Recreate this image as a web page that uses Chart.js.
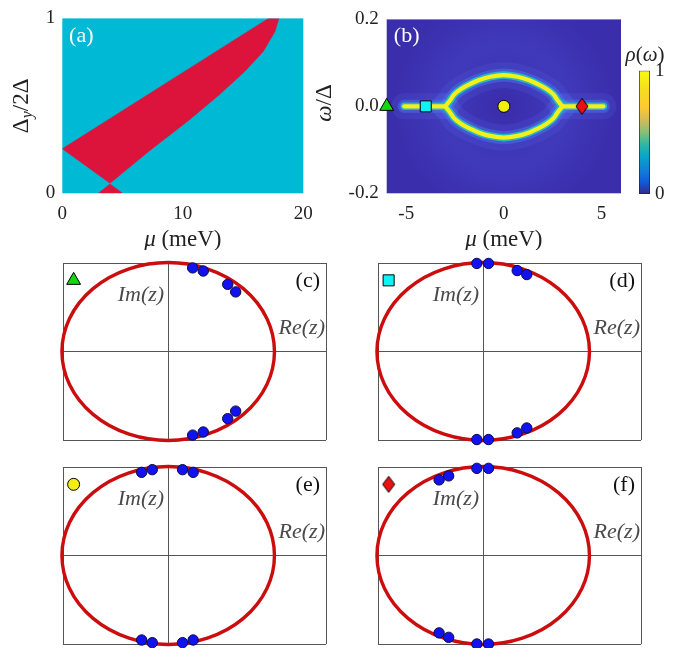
<!DOCTYPE html>
<html><head><meta charset="utf-8">
<script src="https://cdn.jsdelivr.net/npm/chart.js@4.4.1/dist/chart.umd.min.js"></script>
<style>
html,body{margin:0;padding:0;background:#fff;}
#wrap{position:relative;width:689px;height:648px;overflow:hidden;background:#fff;}
canvas{position:absolute;}
</style></head><body>
<div id="wrap">
<canvas id="ca" width="330" height="250" style="left:0px;top:0px;width:330px;height:250px"></canvas>
<canvas id="cb" width="330" height="250" style="left:300px;top:0px;width:330px;height:250px"></canvas>
<canvas id="cbar" width="74" height="250" style="left:615px;top:0px;width:74px;height:250px"></canvas>
<canvas id="cc" width="291" height="205" style="left:49px;top:249px;width:291px;height:205px"></canvas>
<canvas id="cd" width="291" height="205" style="left:364px;top:249px;width:291px;height:205px"></canvas>
<canvas id="ce" width="291" height="205" style="left:49px;top:453px;width:291px;height:205px"></canvas>
<canvas id="cf" width="291" height="205" style="left:364px;top:453px;width:291px;height:205px"></canvas>
</div>
<script>
// ================= DATA =================
// (a) phase diagram
const phaseMuTicks = [0, 10, 20];
const phaseDeltaTicks = [0, 1];
const topoRegionMu    = [0, 17.1, 17.98, 17.65, 16.68, 15.16, 13.08, 10.46, 7.27, 3.96, 0];
const topoRegionDelta = [0.255, 1.0, 1.0, 0.925, 0.811, 0.698, 0.566, 0.415, 0.245, 0.057, 0.255];
const smallRegionMu    = [2.99, 3.96, 5.0];
const smallRegionDelta = [0, 0.053, 0];

// (b) spectral density
const specMuTicks = [-5, 0, 5];
const specOmegaTicks = [-0.2, 0, 0.2];
const arcMu          = [-3.0, -2.75, -2.55, -2.15, -1.7, -1.3, -0.7, 0, 0.7, 1.3, 1.7, 2.15, 2.55, 2.75, 3.0];
const arcOmegaUpper  = [0, 0.014, 0.027, 0.041, 0.052, 0.060, 0.068, 0.072, 0.068, 0.060, 0.052, 0.041, 0.027, 0.014, 0];
const arcOmegaLower  = [0, -0.014, -0.027, -0.041, -0.052, -0.060, -0.068, -0.072, -0.068, -0.060, -0.052, -0.041, -0.027, -0.014, 0];
const bandLeftMu  = [-5.1, -3.0];
const bandRightMu = [3.0, 5.1];
const bandOmega   = [0, 0];
const markerMu    = [-6, -4, 0, 4];
const markerOmega = [0, 0, 0, 0];
const markerShapes = ['triangle', 'rect', 'circle', 'diamond'];
const markerColors = ['#12d812', '#12f2f2', '#f2ee12', '#ee1010'];
const colorbarTicks = [0, 1];

// (c)-(f) zeros in complex plane
const zerosReC = [0.23, 0.33, 0.56, 0.635, 0.23, 0.33, 0.56, 0.635];
const zerosImC = [0.94, 0.905, 0.755, 0.67, -0.94, -0.905, -0.755, -0.67];
const zerosReD = [-0.06, 0.05, 0.32, 0.41, -0.06, 0.05, 0.32, 0.41];
const zerosImD = [0.99, 0.99, 0.91, 0.865, -0.99, -0.99, -0.915, -0.86];
const zerosReE = [-0.25, -0.15, 0.135, 0.235, -0.25, -0.15, 0.135, 0.235];
const zerosImE = [0.935, 0.965, 0.965, 0.935, -0.95, -0.98, -0.98, -0.95];
const zerosReF = [-0.415, -0.325, -0.06, 0.05, -0.415, -0.325, -0.06, 0.05];
const zerosImF = [0.85, 0.895, 0.98, 0.98, -0.87, -0.92, -0.995, -0.995];
const unitCircleRadius = 1;
const panelMarkerRe = -0.89;
const panelMarkerIm = 0.80;

// ================= HELPERS =================
const SERIF = '"Liberation Serif", "DejaVu Serif", serif';
const TICK_FONT = {family: SERIF, size: 19};
const TXT = '#222';
const zip = (xs, ys) => xs.map((x, i) => ({x: x, y: ys[i]}));

function drawRich(ctx, parts, cx, cy, rot) {
  ctx.save();
  ctx.translate(cx, cy);
  ctx.rotate(rot || 0);
  let total = 0;
  parts.forEach(p => { ctx.font = p.font; p.w = ctx.measureText(p.t).width; total += p.w; });
  let x = -total / 2;
  ctx.textBaseline = 'middle';
  ctx.textAlign = 'left';
  parts.forEach(p => { ctx.font = p.font; ctx.fillStyle = p.color || TXT; ctx.fillText(p.t, x, p.dy || 0); x += p.w; });
  ctx.restore();
}

function makeDiamond(color) {
  const c = document.createElement('canvas');
  c.width = 14; c.height = 18;
  const g = c.getContext('2d');
  g.beginPath();
  g.moveTo(7, 1); g.lineTo(13, 9); g.lineTo(7, 17); g.lineTo(1, 9); g.closePath();
  g.fillStyle = color; g.fill();
  g.lineWidth = 1; g.strokeStyle = '#000'; g.stroke();
  return c;
}
const diamondImg = makeDiamond('#ee1010');
const styleOf = s => s === 'diamond' ? diamondImg : s;
const radiusOf = s => ({triangle: 8, rect: 7.8, circle: 6, diamond: 7})[s];

const baseOpts = {
  responsive: false, animation: false, devicePixelRatio: 1,
  plugins: {legend: {display: false}, tooltip: {enabled: false}}
};

// ================= (a) =================
new Chart(document.getElementById('ca'), {
  type: 'scatter',
  data: {datasets: [
    {data: zip(topoRegionMu, topoRegionDelta), showLine: true, fill: 'shape', tension: 0,
     backgroundColor: 'rgb(220,20,60)', borderColor: 'rgb(220,20,60)', borderWidth: 0.5, pointRadius: 0},
    {data: zip(smallRegionMu, smallRegionDelta), showLine: true, fill: 'shape', tension: 0,
     backgroundColor: 'rgb(220,20,60)', borderColor: 'rgb(220,20,60)', borderWidth: 0.5, pointRadius: 0}
  ]},
  options: Object.assign({}, baseOpts, {
    layout: {padding: {left: 0, top: 16.7, right: 26.7, bottom: 0}},
    scales: {
      x: {type: 'linear', min: 0, max: 20,
          afterBuildTicks: a => { a.ticks = phaseMuTicks.map(v => ({value: v})); },
          afterFit: a => { a.height = 56.7; },
          ticks: {font: TICK_FONT, color: TXT, padding: 9, maxRotation: 0},
          grid: {display: false, drawTicks: false}, border: {display: false}},
      y: {type: 'linear', min: 0, max: 1,
          afterBuildTicks: a => { a.ticks = phaseDeltaTicks.map(v => ({value: v})); },
          afterFit: a => { a.width = 62.3; },
          ticks: {font: TICK_FONT, color: TXT, padding: 7},
          grid: {display: false, drawTicks: false}, border: {display: false}}
    }
  }),
  plugins: [{
    id: 'bgA',
    beforeDatasetsDraw(chart) {
      const {ctx, chartArea: a} = chart;
      ctx.save(); ctx.fillStyle = 'rgb(0,185,212)';
      ctx.fillRect(a.left, a.top, a.right - a.left, a.bottom - a.top); ctx.restore();
    },
    afterDraw(chart) {
      const ctx = chart.ctx, a = chart.chartArea;
      drawRich(ctx, [{t: '(a)', font: '22px ' + SERIF, color: '#fff'}], a.left + 19, 36, 0);
      drawRich(ctx, [{t: 'μ', font: 'italic 23px ' + SERIF}, {t: ' (meV)', font: '23px ' + SERIF}], (a.left + a.right) / 2, 240, 0);
      drawRich(ctx, [{t: 'Δ', font: '23px ' + SERIF}, {t: 'y', font: 'italic 16px ' + SERIF, dy: 6},
                     {t: '/2Δ', font: '23px ' + SERIF}], 22, (a.top + a.bottom) / 2, -Math.PI / 2);
    }
  }]
});

// ================= (b) =================
// glow layers, from the top-most (yellow core) to the widest halo
const glowLayers = [
  {w: 4.2, c: '#f6f01a'},
  {w: 7.5, c: 'rgba(40,190,190,0.95)'},
  {w: 13, c: 'rgba(70,125,240,0.45)'},
  {w: 26, c: 'rgba(95,110,240,0.16)'}
];
const specCurves = [
  {p: zip(arcMu, arcOmegaUpper), s: true},
  {p: zip(arcMu, arcOmegaLower), s: true},
  {p: zip(bandLeftMu, bandOmega), s: false},
  {p: zip(bandRightMu, bandOmega), s: false}
];
// Chart.js draws dataset 0 on top, so markers come first, then core, then halos
const bSets = [{
  data: zip(markerMu, markerOmega), showLine: false, clip: false,
  pointStyle: markerShapes.map(styleOf), pointRadius: markerShapes.map(radiusOf),
  pointBackgroundColor: markerColors, pointBorderColor: '#000', pointBorderWidth: 1
}];
glowLayers.forEach(l => {
  specCurves.forEach(cv => {
    bSets.push({data: cv.p, showLine: true, fill: false, borderColor: l.c, borderWidth: l.w,
      pointRadius: 0, borderCapStyle: 'round', borderJoinStyle: 'round',
      cubicInterpolationMode: cv.s ? 'monotone' : 'default', tension: 0});
  });
});
new Chart(document.getElementById('cb'), {
  type: 'scatter',
  data: {datasets: bSets},
  options: Object.assign({}, baseOpts, {
    layout: {padding: {left: 0, top: 16.7, right: 4, bottom: 0}},
    scales: {
      x: {type: 'linear', min: -6, max: 6,
          afterBuildTicks: a => { a.ticks = specMuTicks.map(v => ({value: v})); },
          afterFit: a => { a.height = 56.7; },
          ticks: {font: TICK_FONT, color: TXT, padding: 9, maxRotation: 0},
          grid: {display: false, drawTicks: false}, border: {display: false}},
      y: {type: 'linear', min: -0.2, max: 0.2,
          afterBuildTicks: a => { a.ticks = specOmegaTicks.map(v => ({value: v})); },
          afterFit: a => { a.width = 86.7; },
          ticks: {font: TICK_FONT, color: TXT, padding: 8, callback: v => v.toFixed(1)},
          grid: {display: false, drawTicks: false}, border: {display: false}}
    }
  }),
  plugins: [{
    id: 'bgB',
    beforeDatasetsDraw(chart) {
      const {ctx, chartArea: a} = chart;
      ctx.save();
      ctx.fillStyle = 'rgb(58,46,172)';
      ctx.fillRect(a.left, a.top, a.right - a.left, a.bottom - a.top);
      ctx.beginPath(); ctx.rect(a.left, a.top, a.right - a.left, a.bottom - a.top); ctx.clip();
      const cx = (a.left + a.right) / 2, cy = (a.top + a.bottom) / 2;
      const g = ctx.createRadialGradient(cx, cy, 10, cx, cy, 110);
      g.addColorStop(0, 'rgba(75,80,215,0.0)');
      g.addColorStop(0.5, 'rgba(75,80,215,0.35)');
      g.addColorStop(1, 'rgba(75,80,215,0)');
      ctx.fillStyle = g;
      ctx.fillRect(a.left, a.top, a.right - a.left, a.bottom - a.top);
      ctx.restore();
    },
    afterDraw(chart) {
      const ctx = chart.ctx, a = chart.chartArea;
      drawRich(ctx, [{t: '(b)', font: '22px ' + SERIF, color: '#fff'}], a.left + 20, 36, 0);
      drawRich(ctx, [{t: 'μ', font: 'italic 23px ' + SERIF}, {t: ' (meV)', font: '23px ' + SERIF}], (a.left + a.right) / 2, 240, 0);
      drawRich(ctx, [{t: 'ω', font: 'italic 23px ' + SERIF}, {t: '/Δ', font: '23px ' + SERIF}], 25, 103, -Math.PI / 2);
    }
  }]
});

// ================= colorbar =================
const parula = [
  [0.00, '#352a87'], [0.10, '#0f5cdd'], [0.20, '#1481d6'], [0.30, '#06a4ca'],
  [0.40, '#2eb7a4'], [0.50, '#87bf77'], [0.60, '#d1bb59'], [0.70, '#fec832'],
  [0.85, '#f5de1e'], [1.00, '#f9fb0e']
];
new Chart(document.getElementById('cbar'), {
  type: 'bar',
  data: {labels: [''], datasets: [{data: [1], barPercentage: 1, categoryPercentage: 1,
    borderWidth: 1, borderColor: '#222', borderSkipped: false,
    backgroundColor: (c) => {
      const ch = c.chart, a = ch.chartArea;
      if (!a) return '#352a87';
      const g = ch.ctx.createLinearGradient(0, a.bottom, 0, a.top);
      parula.forEach(s => g.addColorStop(s[0], s[1]));
      return g;
    }}]},
  options: Object.assign({}, baseOpts, {
    layout: {padding: {left: 24, top: 70.7, right: 0, bottom: 56}},
    scales: {
      x: {display: false},
      y: {type: 'linear', min: 0, max: 1, position: 'right',
          afterBuildTicks: a => { a.ticks = colorbarTicks.map(v => ({value: v})); },
          afterFit: a => { a.width = 39; },
          ticks: {font: TICK_FONT, color: TXT, padding: 5},
          grid: {display: false, drawTicks: false}, border: {display: false}}
    }
  }),
  plugins: [{
    id: 'cbTitle',
    afterDraw(chart) {
      drawRich(chart.ctx, [{t: 'ρ', font: 'italic 21px ' + SERIF}, {t: '(', font: '21px ' + SERIF},
        {t: 'ω', font: 'italic 21px ' + SERIF}, {t: ')', font: '21px ' + SERIF}], 30, 55, 0);
    }
  }]
});

// ================= (c)-(f) =================
function makeZ(id, re, im, mStyle, mColor, label) {
  const edge = a => { a.ticks = [{value: a.min}, {value: 0}, {value: a.max}]; };
  new Chart(document.getElementById(id), {
    type: 'scatter',
    data: {datasets: [
      {data: [{x: panelMarkerRe, y: panelMarkerIm}], pointStyle: styleOf(mStyle), pointRadius: radiusOf(mStyle),
       pointBackgroundColor: mColor, pointBorderColor: '#000', pointBorderWidth: 1, clip: false},
      {data: zip(re, im), pointRadius: 5.2, pointBackgroundColor: '#1212f0', pointBorderColor: '#0a0a40',
       pointBorderWidth: 1, clip: false}
    ]},
    options: Object.assign({}, baseOpts, {
      layout: {padding: {left: 14, top: 14, right: 14, bottom: 14}},
      scales: {
        x: {type: 'linear', min: -0.99, max: 1.485, afterBuildTicks: edge, afterFit: a => { a.height = 0; },
            ticks: {display: false}, grid: {color: '#555', lineWidth: 1, drawTicks: false}, border: {display: false}},
        y: {type: 'linear', min: -0.995, max: 0.995, afterBuildTicks: edge, afterFit: a => { a.width = 0; },
            ticks: {display: false}, grid: {color: '#555', lineWidth: 1, drawTicks: false}, border: {display: false}}
      }
    }),
    plugins: [{
      id: 'unitCircle',
      beforeDatasetsDraw(chart) {
        const {ctx, scales: {x, y}} = chart;
        const cx = x.getPixelForValue(0), cy = y.getPixelForValue(0);
        const rx = x.getPixelForValue(unitCircleRadius) - cx, ry = cy - y.getPixelForValue(unitCircleRadius);
        ctx.save();
        ctx.beginPath(); ctx.ellipse(cx, cy, rx, ry, 0, 0, 2 * Math.PI);
        ctx.strokeStyle = '#cc0d0d'; ctx.lineWidth = 3.4; ctx.stroke();
        ctx.restore();
      },
      afterDraw(chart) {
        const {ctx, chartArea: a, scales: {x, y}} = chart;
        ctx.save();
        ctx.textBaseline = 'middle';
        ctx.textAlign = 'right';
        ctx.fillStyle = '#111'; ctx.font = '22px ' + SERIF;
        ctx.fillText(label, a.right - 6, a.top + 18);
        ctx.fillStyle = '#4a4a4a'; ctx.font = 'italic 22px ' + SERIF;
        ctx.fillText('Im(z)', x.getPixelForValue(0) - 4, a.top + 32);
        ctx.fillText('Re(z)', a.right - 1, y.getPixelForValue(0) - 23);
        ctx.restore();
      }
    }]
  });
}
makeZ('cc', zerosReC, zerosImC, 'triangle', '#12d812', '(c)');
makeZ('cd', zerosReD, zerosImD, 'rect', '#12f2f2', '(d)');
makeZ('ce', zerosReE, zerosImE, 'circle', '#f2ee12', '(e)');
makeZ('cf', zerosReF, zerosImF, 'diamond', '#ee1010', '(f)');
</script>
</body></html>
